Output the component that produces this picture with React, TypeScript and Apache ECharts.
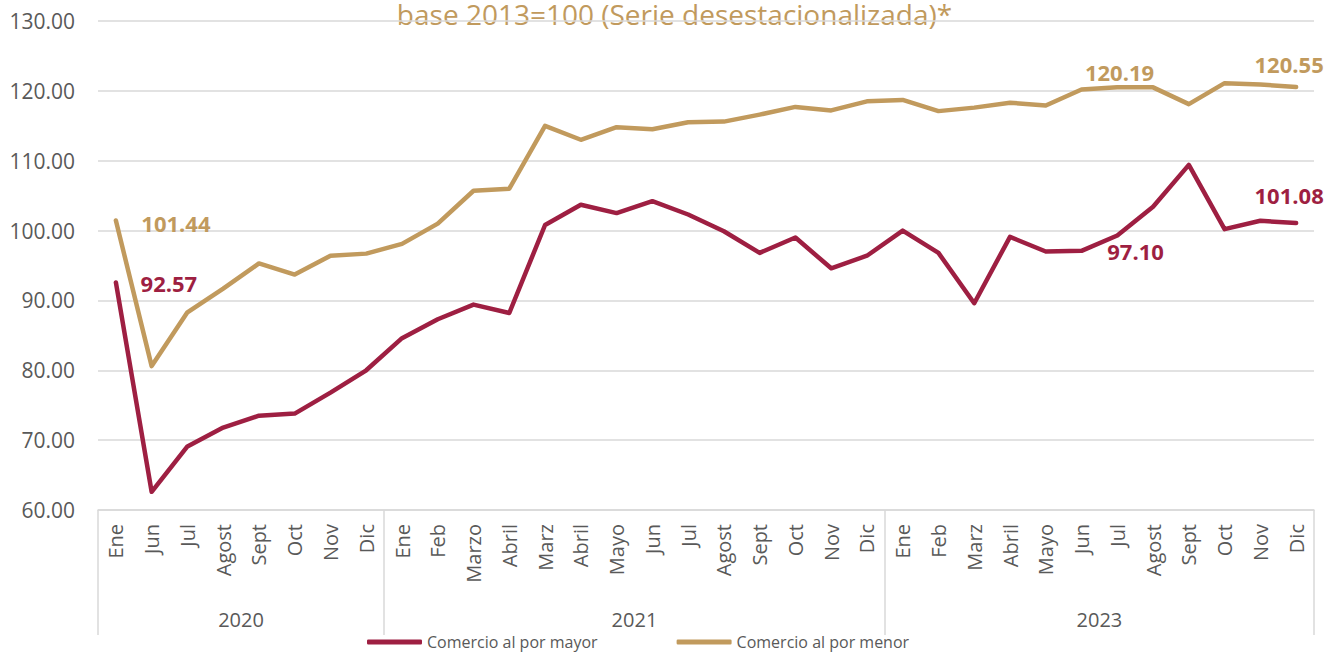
import { useEffect, useRef } from 'react';
import * as echarts from 'echarts';

const months = [
  'Ene', 'Jun', 'Jul', 'Agost', 'Sept', 'Oct', 'Nov', 'Dic',
  'Ene', 'Feb', 'Marzo', 'Abril', 'Marz', 'Abril', 'Mayo', 'Jun', 'Jul', 'Agost', 'Sept', 'Oct', 'Nov', 'Dic',
  'Ene', 'Feb', 'Marz', 'Abril', 'Mayo', 'Jun', 'Jul', 'Agost', 'Sept', 'Oct', 'Nov', 'Dic',
];
const years = ['2020', '2021', '2023'];
const yearSpans = [8, 14, 12];

const mayorName = 'Comercio al por mayor';
const menorName = 'Comercio al por menor';

const mayor = [
  92.57, 62.6, 69.1, 71.8, 73.5, 73.8, 76.8, 80.0,
  84.6, 87.3, 89.4, 88.2, 100.8, 103.7, 102.5, 104.2, 102.3, 99.9, 96.8, 99.0, 94.6, 96.4,
  100.0, 96.8, 89.6, 99.1, 97.0, 97.10, 99.3, 103.4, 109.4, 100.2, 101.4, 101.08,
];
const menor = [
  101.44, 80.6, 88.3, 91.7, 95.3, 93.7, 96.4, 96.7,
  98.1, 101.0, 105.7, 106.0, 115.0, 113.0, 114.8, 114.5, 115.5, 115.6, 116.6, 117.7, 117.2, 118.5,
  118.7, 117.1, 117.6, 118.3, 117.9, 120.19, 120.5, 120.5, 118.1, 121.1, 120.9, 120.55,
];

const yMin = 60;
const yMax = 130;
const yStep = 10;

const titleText = 'base 2013=100 (Serie desestacionalizada)*';

const MAYOR_COLOR = '#9E1F42';
const MENOR_COLOR = '#C19A5D';
const GRAY = '#595959';
const GRID = '#D9D9D9';
const FONT = 'Open Sans';

// label offsets (styling only) keyed by data index
const mayorLabelOffsets: Record<number, [number, number]> = { 0: [53, 1], 27: [54, 0], 33: [-7, -28] };
const menorLabelOffsets: Record<number, [number, number]> = { 0: [60, 2], 27: [38, -18], 33: [-7, -23] };

export default function App() {
  const ref = useRef<HTMLDivElement>(null);
  useEffect(() => {
    const chart = echarts.init(ref.current!, null, { renderer: 'svg' });

    const starts: number[] = [];
    const centers: number[] = [];
    let acc = 0;
    yearSpans.forEach((s) => {
      starts.push(acc);
      centers.push(acc + s / 2);
      acc += s;
    });
    const total = acc;

    const mk = (vals: number[], offs: Record<number, [number, number]>, color: string) =>
      vals.map((v, i) =>
        offs[i]
          ? {
              value: v,
              label: {
                show: true,
                position: 'inside',
                offset: offs[i],
                color,
                fontSize: 22,
                fontWeight: 'bold',
                fontFamily: FONT,
                formatter: (p: any) => Number(p.value).toFixed(2),
              },
            }
          : v
      );

    const lineSeries = (name: string, vals: number[], offs: Record<number, [number, number]>, color: string) => ({
      name,
      type: 'line',
      data: mk(vals, offs, color),
      xAxisIndex: 0,
      yAxisIndex: 0,
      symbol: 'circle',
      symbolSize: 0.01,
      showSymbol: true,
      showAllSymbol: true,
      silent: true,
      color,
      itemStyle: { color },
      lineStyle: { color, width: 4.5, cap: 'round', join: 'round' },
      label: { show: false },
      emphasis: { disabled: true },
    });

    chart.setOption({
      animation: false,
      backgroundColor: '#ffffff',
      textStyle: { fontFamily: FONT },
      grid: { left: 98, right: 25, top: 21, bottom: 142, containLabel: false },
      graphic: [
        {
          type: 'text',
          x: 674.5,
          y: 14,
          style: {
            text: titleText,
            fill: MENOR_COLOR,
            font: `28px "${FONT}"`,
            textAlign: 'center',
            textVerticalAlign: 'middle',
          },
          silent: true,
        },
      ],
      legend: {
        data: [mayorName, menorName],
        left: 362,
        top: 629,
        icon: 'roundRect',
        itemWidth: 55,
        itemHeight: 5,
        itemGap: 79,
        textStyle: { color: GRAY, fontSize: 16, fontFamily: FONT },
        selectedMode: false,
      },
      xAxis: [
        {
          type: 'category',
          data: months,
          position: 'bottom',
          boundaryGap: true,
          axisLine: { show: true, lineStyle: { color: GRID, width: 1.5 } },
          axisTick: {
            show: true,
            length: 125,
            interval: (index: number) => starts.includes(index),
            lineStyle: { color: GRID, width: 1.5 },
          },
          axisLabel: {
            interval: 0,
            rotate: 90,
            margin: 14,
            color: GRAY,
            fontSize: 20,
            fontFamily: FONT,
          },
          splitLine: { show: false },
        },
        {
          type: 'value',
          position: 'bottom',
          min: 0,
          max: total,
          interval: 1,
          axisLine: { show: false },
          axisTick: { show: false },
          splitLine: { show: false },
          axisLabel: {
            margin: 99,
            color: GRAY,
            fontSize: 20,
            fontFamily: FONT,
            showMinLabel: true,
            showMaxLabel: true,
            formatter: (v: number) => {
              const k = centers.findIndex((c) => Math.abs(c - v) < 1e-6);
              return k >= 0 ? years[k] : '';
            },
          },
        },
      ],
      yAxis: {
        type: 'value',
        min: yMin,
        max: yMax,
        interval: yStep,
        axisLine: { show: false },
        axisTick: { show: false },
        axisLabel: {
          margin: 23,
          color: GRAY,
          fontSize: 21,
          fontFamily: FONT,
          formatter: (v: number) => v.toFixed(2),
        },
        splitLine: { show: true, lineStyle: { color: GRID, width: 1.5 } },
      },
      series: [
        lineSeries(mayorName, mayor, mayorLabelOffsets, MAYOR_COLOR),
        lineSeries(menorName, menor, menorLabelOffsets, MENOR_COLOR),
      ],
    });

    return () => chart.dispose();
  }, []);

  return (
    <div
      ref={ref}
      style={{ position: 'fixed', left: 0, top: 0, width: 1339, height: 652, background: '#fff' }}
    />
  );
}
